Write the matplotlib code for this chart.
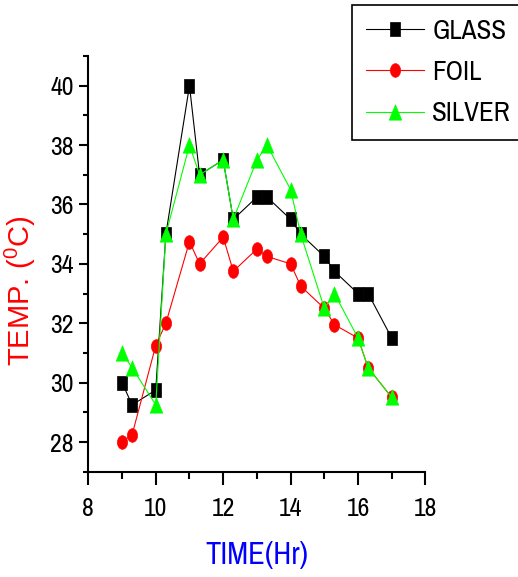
import matplotlib
matplotlib.use('Agg')
import matplotlib.pyplot as plt
from matplotlib.path import Path
from matplotlib.transforms import Affine2D

time_hr = [9, 9.3, 10, 10.3, 11, 11.3, 12, 12.3, 13, 13.3, 14, 14.3, 15, 15.3, 16, 16.3, 17]
glass = [30, 29.25, 29.75, 35, 40, 37, 37.5, 35.5, 36.25, 36.25, 35.5, 35, 34.25, 33.75, 33, 33, 31.5]
foil = [28, 28.25, 31.25, 32, 34.75, 34, 34.9, 33.75, 34.5, 34.25, 34, 33.25, 32.5, 31.95, 31.5, 30.5, 29.5]
silver = [31, 30.5, 29.25, 35, 38, 37, 37.5, 35.5, 37.5, 38, 36.5, 35, 32.5, 33, 31.5, 30.5, 29.5]

x_major = [8, 10, 12, 14, 16, 18]
y_major = [28, 30, 32, 34, 36, 38, 40]

NARROW = ['Archivo Narrow', 'Roboto Condensed', 'Liberation Sans', 'DejaVu Sans']
REGULAR = ['Liberation Sans', 'DejaVu Sans']

# the original looks squeezed sideways, so markers are a bit taller than wide
sq_marker = Path([(-0.69, -1), (0.69, -1), (0.69, 1), (-0.69, 1), (-0.69, -1)], closed=True)
circ_marker = Path.unit_circle().transformed(Affine2D().scale(0.75, 1))
tri_marker = Path([(0, 1), (-0.82, -1), (0.82, -1), (0, 1)], closed=True)

fig = plt.figure(figsize=(5.18, 5.77), dpi=100)
ax = fig.add_axes([0.1705, 0.1825, 0.6509, 0.7204])

ax.plot(time_hr, glass, color='black', lw=0.8, marker=sq_marker, ms=9.6,
        mec='black', mew=0.5, label='GLASS')
ax.plot(time_hr, foil, color='#ff0000', lw=0.8, marker=circ_marker, ms=9.8,
        mec='#ff0000', mew=0.5, label='FOIL')
ax.plot(time_hr, silver, color='#00ff00', lw=0.8, marker=tri_marker, ms=11,
        mec='#00ff00', mew=0.5, label='SILVER')

ax.set_xlim(8, 18)
ax.set_ylim(27, 41)
ax.set_xticks(x_major)
ax.set_xticks(range(9, 18, 2), minor=True)
ax.set_yticks(y_major)
ax.set_yticks(range(27, 42, 2), minor=True)

for s in ['top', 'right']:
    ax.spines[s].set_visible(False)
for s in ['left', 'bottom']:
    ax.spines[s].set_linewidth(1.5)

ax.tick_params(axis='x', which='major', length=9.5, width=1.5, pad=9, direction='out')
ax.tick_params(axis='x', which='minor', length=5, width=1.5, direction='out')
ax.tick_params(axis='y', which='major', length=6.5, width=1.5, pad=4, direction='out')
ax.tick_params(axis='y', which='minor', length=3.5, width=1.5, direction='out')
for lab in ax.get_xticklabels() + ax.get_yticklabels():
    lab.set_family(NARROW)
    lab.set_fontsize(18.5)

ax.set_xlabel('TIME(Hr)', color='#0000ff', fontsize=22, family=NARROW, labelpad=15)
ax.set_ylabel(r'TEMP. ($\mathregular{^{0}}$C)', color='#ff0000', fontsize=21, family=REGULAR)
ax.yaxis.set_label_coords(-0.1496, 0.4347)

leg = fig.legend(loc='upper left', bbox_to_anchor=(352.3 / 518, 1 - 5 / 577),
                 bbox_transform=fig.transFigure, borderaxespad=0, fancybox=False,
                 edgecolor='black', framealpha=1, numpoints=1, handlelength=2.15,
                 handletextpad=0.3, labelspacing=0.6, borderpad=0.5,
                 prop={'family': NARROW, 'size': 19.5})
leg.get_frame().set_linewidth(1.2)

fig.savefig('out.png', dpi=100)
